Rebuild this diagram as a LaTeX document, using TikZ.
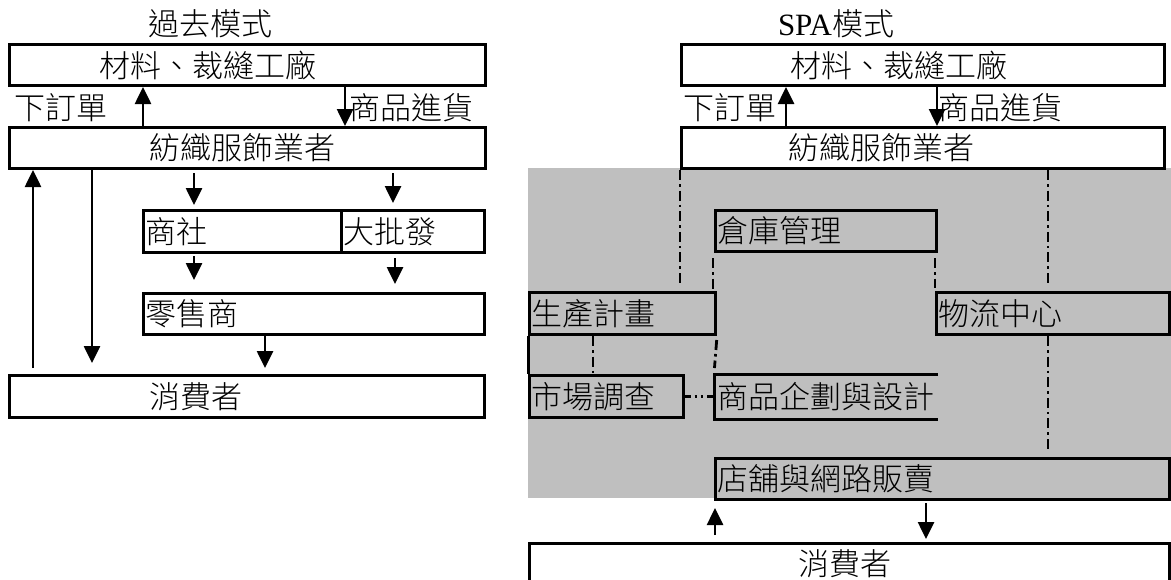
\documentclass[tikz,border=0pt]{standalone}
\usepackage{fontspec}
\setmainfont{Liberation Serif}
\newfontfamily\cjk{Noto Sans CJK TC Light}
\usetikzlibrary{arrows.meta}

\begin{document}
\begin{tikzpicture}[x=0.5pt,y=-0.5pt,
  every node/.style={font=\cjk\fontsize{15.5}{18}\selectfont, inner sep=0pt},
  box/.style={draw, line width=1.5pt, anchor=north west, minimum height=20.5pt, inner xsep=1pt},
  lbox/.style={box, text width=#1, align=left},
  arr/.style={line width=1.3pt, -{Triangle[width=8pt,length=8.5pt]}},
  dashdot/.style={line width=1.4pt, dash pattern=on 5pt off 2pt on 1.3pt off 2pt},
  dots/.style={line width=1.4pt, dash pattern=on 3pt off 1.8pt on 1.3pt off 1.8pt on 1.3pt off 1.8pt}]
  \useasboundingbox (0,0) rectangle (1171,579);
  \clip (0,0) rectangle (1171,579);

  % Old model
  \node (title1) at (210,24) {過去模式};
  \node[box, minimum width=238pt, label={[xshift=-20pt]center:材料、裁縫工廠}] (mat1) at (8,43) {};
  \node (ord1) at (61,108) {下訂單};
  \node (get1) at (411,108) {商品進貨};
  \node[box, minimum width=238pt, label={[xshift=-2.5pt]center:紡織服飾業者}] (tex1) at (8,126) {};
  \node[lbox=97pt, minimum height=21pt] (trade) at (142,209) {商社};
  \node[lbox=69.5pt, minimum height=21pt] (whole) at (340,209) {大批發};
  \node[lbox=168.5pt] (retail) at (142,292) {零售商};
  \node[box, minimum width=237.5pt, minimum height=21pt, label={[xshift=-25.75pt]center:消費者}] (cons1) at (8,374) {};

  \draw[arr] ([xshift=67.5pt]tex1.north west) -- ([xshift=67.5pt]tex1.north west |- mat1.south);
  \draw[arr] ([xshift=168.5pt]mat1.south west) -- ([xshift=168.5pt]mat1.south west |- tex1.north);
  \draw[arr, shorten <=3pt] ([xshift=12.5pt]cons1.north west) -- ([xshift=12.5pt]cons1.north west |- tex1.south);
  \draw[arr, shorten >=5.5pt] ([xshift=42pt]tex1.south west) -- ([xshift=42pt]tex1.south west |- cons1.north);
  \draw[arr, shorten <=1.5pt, shorten >=2pt] ([xshift=26pt]trade.north west |- tex1.south) -- ([xshift=26pt]trade.north west);
  \draw[arr, shorten <=1.5pt, shorten >=3pt] ([xshift=26.5pt]whole.north west |- tex1.south) -- ([xshift=26.5pt]whole.north west);
  \draw[arr, shorten <=1pt, shorten >=6pt] ([xshift=26pt]trade.south west) -- ([xshift=26pt]trade.south west |- retail.north);
  \draw[arr, shorten <=2pt, shorten >=4pt] ([xshift=27.5pt]whole.south west) -- ([xshift=27.5pt]whole.south west |- retail.north);
  \draw[arr, shorten >=3pt] ([xshift=61.5pt]retail.south west) -- ([xshift=61.5pt]retail.south west |- cons1.north);

  % SPA model
  \fill[gray!50] (528,168) rectangle (1171,498);
  \node (title2) at (836,24) {\rmfamily SPA\cjk 模式};
  \node[box, minimum width=241.5pt, label={[xshift=-12.25pt]center:材料、裁縫工廠}] (mat2) at (680,43) {};
  \node (ord2) at (730,108) {下訂單};
  \node (get2) at (1000,108) {商品進貨};
  \node[box, minimum width=241.5pt, label={[xshift=-20.75pt]center:紡織服飾業者}] (tex2) at (680,126) {};
  \node[lbox=108.5pt] (wh) at (714,209) {倉庫管理};
  \node[lbox=91pt, minimum height=21pt] (plan) at (528,291) {生產計畫};
  \node[lbox=114.5pt, minimum height=21pt] (logi) at (935,291) {物流中心};
  \node[lbox=75pt, minimum height=21pt] (mkt) at (528,374) {市場調查};
  \node[lbox=108.5pt, minimum height=21pt, draw=none] (design) at (714,374) {商品企劃與設計};
  \draw[line width=1.5pt] (design.north east) -- (design.north west) -- (design.south west) -- (design.south east);
  \node[lbox=225pt] (shop) at (714,457) {店舖與網路販賣};
  \node[box, minimum width=320pt, minimum height=20pt, label={[xshift=-2.5pt]center:消費者}] (cons2) at (528,542) {};

  \draw[arr] ([xshift=53pt]tex2.north west) -- ([xshift=53pt]tex2.north west |- mat2.south);
  \draw[arr] ([xshift=128.5pt]mat2.south west) -- ([xshift=128.5pt]mat2.south west |- tex2.north);
  \draw[dashdot, shorten >=3pt] (tex2.south west) -- (tex2.south west |- plan.north);
  \draw[dashdot, shorten >=4pt] ([xshift=56.5pt]logi.north west |- tex2.south) -- ([xshift=56.5pt]logi.north west);
  \draw[dashdot, shorten <=2.5pt] ([xshift=-2pt]plan.north east |- wh.south) -- ([xshift=-2pt]plan.north east);
  \draw[dashdot, shorten <=2.5pt, shorten >=1.5pt] (logi.north west |- wh.south) -- (logi.north west);
  \draw[dashdot, shorten >=3.5pt] ([xshift=56.5pt]logi.south west) -- ([xshift=56.5pt]logi.south west |- shop.north);
  \draw[dashdot] ([xshift=32.5pt]plan.south west) -- ([xshift=32.5pt]plan.south west |- mkt.north);
  \draw[dashdot, shorten <=2pt, shorten >=3pt] (plan.south east) -- (design.north west);
  \draw[line width=1.5pt] (plan.south west) -- (mkt.north west);
  \draw[dots] (mkt.east) -- (design.west);
  \draw[arr, shorten <=3.5pt, shorten >=3.5pt] ([xshift=0.5pt]shop.south west |- cons2.north) -- ([xshift=0.5pt]shop.south west);
  \draw[arr, shorten <=1pt, shorten >=1.5pt] ([xshift=106pt]shop.south west) -- ([xshift=106pt]shop.south west |- cons2.north);
\end{tikzpicture}
\end{document}
